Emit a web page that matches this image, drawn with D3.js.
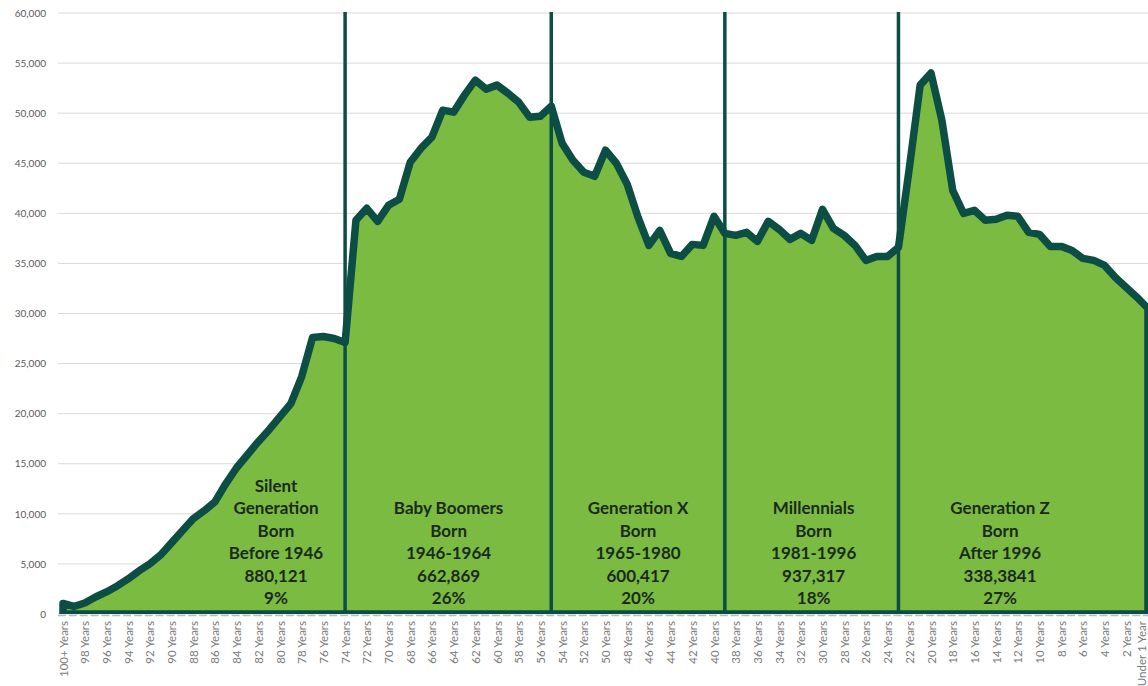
<!DOCTYPE html>
<html>
<head>
<meta charset="utf-8">
<script src="https://cdn.jsdelivr.net/npm/d3@7/dist/d3.min.js"></script>
<style>
  html, body { margin: 0; padding: 0; background: #ffffff; }
  svg { display: block; }
</style>
</head>
<body>
<svg id="chart" width="1148" height="686"></svg>
<script>
// Population by single year of age, oldest on the left
const ages = ["100+ Years"].concat(d3.range(99, 0, -1).map(a => a + " Years")).concat(["Under 1 Year"]);

const population = [
  1050, 750, 1100, 1700, 2200, 2800, 3500, 4300, 5000, 5900,
  7100, 8300, 9500, 10300, 11200, 13000, 14600, 15900, 17200, 18400,
  19700, 21000, 23700, 27600, 27700, 27500, 27100, 39300, 40500, 39200,
  40800, 41400, 45100, 46500, 47600, 50300, 50100, 51800, 53300, 52400,
  52800, 52000, 51100, 49600, 49700, 50700, 47000, 45300, 44100, 43700,
  46300, 45000, 42900, 39600, 36800, 38300, 36000, 35700, 36900, 36800,
  39700, 38000, 37800, 38100, 37200, 39200, 38400, 37400, 38000, 37300,
  40400, 38500, 37800, 36800, 35300, 35700, 35700, 36600, 44500, 52800,
  54000, 49300, 42300, 40000, 40300, 39300, 39400, 39800, 39700, 38100,
  37900, 36700, 36700, 36300, 35500, 35300, 34800, 33600, 32600, 31600,
  30500
];

const yTicks = [0, 5000, 10000, 15000, 20000, 25000, 30000, 35000, 40000, 45000, 50000, 55000, 60000];

// Age at which each generation boundary falls
const boundaryAges = ["74 Years", "55 Years", "39 Years", "23 Years"];

// Generation text blocks, centred over each band
const generationLabels = [
  ["Silent", "Generation", "Born", "Before 1946", "880,121", "9%"],
  ["Baby Boomers", "Born", "1946-1964", "662,869", "26%"],
  ["Generation X", "Born", "1965-1980", "600,417", "20%"],
  ["Millennials", "Born", "1981-1996", "937,317", "18%"],
  ["Generation Z", "Born", "After 1996", "338,3841", "27%"]
];
const labelCenterAges = ["80 Years", "64 Years", "47 Years", "31 Years", "14 Years"];
const labelNudge = [-4, -5, 0, 2, 4];

const W = 1148, H = 686;
const plot = { left: 58, right: 1148, top: 13, bottom: 614 };

const svg = d3.select("#chart");

const x = d3.scalePoint().domain(ages).range([63, 1148]);
const y = d3.scaleLinear().domain([0, 60000]).range([plot.bottom, plot.top]);

const lineColor = "#0c4e44";
const fillColor = "#7bbb42";

// Gridlines
svg.append("g")
  .selectAll("line")
  .data(yTicks)
  .join("line")
  .attr("x1", plot.left).attr("x2", plot.right)
  .attr("y1", d => y(d)).attr("y2", d => y(d))
  .attr("stroke", "#d9d9d9").attr("stroke-width", 1);

// Y axis labels
const yAxis = d3.axisLeft(y).tickValues(yTicks).tickFormat(d3.format(",")).tickSize(0).tickPadding(0);
svg.append("g")
  .attr("transform", `translate(46,0)`)
  .call(yAxis)
  .call(g => g.select(".domain").remove())
  .call(g => g.selectAll("text")
    .attr("fill", "#595959")
    .style("font-family", "Lato, sans-serif")
    .style("font-size", "10px"));

// Area clipped to the plot region
svg.append("defs").append("clipPath").attr("id", "plotClip")
  .append("rect")
  .attr("x", plot.left).attr("y", 0)
  .attr("width", plot.right - plot.left).attr("height", plot.bottom);

const area = d3.area()
  .x((d, i) => x(ages[i]))
  .y0(y(0))
  .y1(d => y(d));

svg.append("path")
  .datum(population)
  .attr("clip-path", "url(#plotClip)")
  .attr("d", area)
  .attr("fill", fillColor)
  .attr("stroke", lineColor)
  .attr("stroke-width", 7.5)
  .attr("stroke-linejoin", "round");

// Generation boundaries
svg.append("g")
  .selectAll("line")
  .data(boundaryAges)
  .join("line")
  .attr("x1", d => x(d)).attr("x2", d => x(d))
  .attr("y1", plot.top - 1).attr("y2", plot.bottom)
  .attr("stroke", lineColor).attr("stroke-width", 3.5);

// X axis line with category ticks
svg.append("line")
  .attr("x1", plot.left).attr("x2", plot.right)
  .attr("y1", plot.bottom + 1.5).attr("y2", plot.bottom + 1.5)
  .attr("stroke", "#a8c2c8").attr("stroke-width", 1.5)
  .attr("stroke-dasharray", "8,2.85");

const xAxis = d3.axisBottom(x)
  .tickValues(ages.filter((d, i) => i % 2 === 0))
  .tickSize(0).tickPadding(0);
svg.append("g")
  .attr("transform", `translate(0,${plot.bottom})`)
  .call(xAxis)
  .call(g => g.select(".domain").remove())
  .call(g => g.selectAll(".tick")
    .filter(d => d === ages[ages.length - 1])
    .attr("transform", `translate(${x(ages[ages.length - 1]) - 6},0)`))
  .call(g => g.selectAll("text")
    .attr("fill", "#7a7a7a")
    .attr("transform", "translate(0,7) rotate(-90)")
    .attr("text-anchor", "end")
    .attr("dy", "0.35em")
    .attr("x", 0).attr("y", 0)
    .style("font-family", "Lato, sans-serif")
    .style("font-size", "11.5px"));

// Generation annotations
const lineH = 22.4;
const lastBaseline = 604;
generationLabels.forEach((lines, k) => {
  const cx = x(labelCenterAges[k]) + labelNudge[k];
  const t = svg.append("text")
    .attr("text-anchor", "middle")
    .attr("fill", "#1b2a1d")
    .style("font-family", "Lato, sans-serif")
    .style("font-weight", "700")
    .style("font-size", "17px");
  lines.forEach((s, j) => {
    t.append("tspan")
      .attr("x", cx)
      .attr("y", lastBaseline - (lines.length - 1 - j) * lineH)
      .text(s);
  });
});
</script>
</body>
</html>
